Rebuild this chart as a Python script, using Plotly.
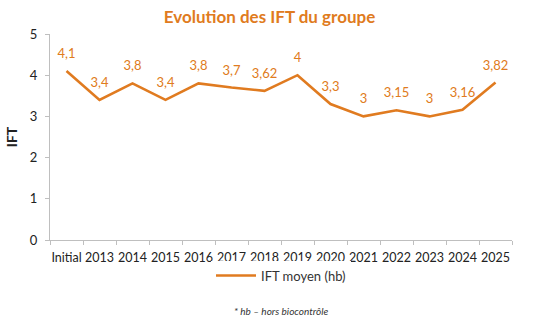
import plotly.graph_objects as go

categories = ["Initial", "2013", "2014", "2015", "2016", "2017", "2018",
              "2019", "2020", "2021", "2022", "2023", "2024", "2025"]
ift_moyen = [4.1, 3.4, 3.8, 3.4, 3.8, 3.7, 3.62, 4, 3.3, 3, 3.15, 3, 3.16, 3.82]
y_ticks = [0, 1, 2, 3, 4, 5]

ORANGE = "#E07B20"
FONT = "Lato, Calibri, sans-serif"

labels = [f"{v:g}".replace(".", ",") for v in ift_moyen]

fig = go.Figure()
fig.add_trace(go.Scatter(
    x=categories, y=ift_moyen, mode="lines+markers+text",
    name="IFT moyen (hb)",
    line=dict(color=ORANGE, width=2.6),
    # invisible markers keep the value labels a little above the line
    marker=dict(size=14, color="rgba(0,0,0,0)"),
    text=labels, textposition="top center",
    textfont=dict(color=ORANGE, size=13, family=FONT),
    cliponaxis=False,
))

fig.update_layout(
    width=539, height=328,
    margin=dict(l=48, r=27, t=34, b=88),
    paper_bgcolor="white", plot_bgcolor="white",
    font=dict(family=FONT, size=13, color="#333333"),
    title=dict(text="<b>Evolution des IFT du groupe</b>", x=0.5, xanchor="center",
               y=1 - 17 / 328, yanchor="middle",
               font=dict(size=17, color=ORANGE, family=FONT)),
    showlegend=True,
    legend=dict(orientation="h", x=0.5, xanchor="center", y=-0.1, yanchor="top",
                font=dict(size=13, color="#333333"), itemwidth=40),
    xaxis=dict(range=[-0.5, len(categories) - 0.5], showline=True,
               linecolor="#BFBFBF", linewidth=1, tickangle=0,
               ticks="outside", tickson="boundaries", tickcolor="#BFBFBF", ticklen=4,
               ticklabelstandoff=6,
               showgrid=False, tickfont=dict(size=12.5, color="#222222")),
    yaxis=dict(range=[0, 5], tickvals=y_ticks, showline=True, linecolor="#BFBFBF",
               linewidth=1, ticks="outside", tickcolor="#BFBFBF", ticklen=4,
               ticklabelstandoff=5,
               showgrid=False, zeroline=False, tickfont=dict(size=13, color="#222222"),
               title=dict(text="<b>IFT</b>", font=dict(size=14, color="#222222"),
                          standoff=8)),
    annotations=[dict(text="<i>* hb – hors biocontrôle</i>", xref="paper", yref="paper",
                      x=0.5, y=-(311 - 240) / 206, xanchor="center", yanchor="middle",
                      showarrow=False, font=dict(size=10, color="#333333"))],
)

fig.write_html("out.html")
